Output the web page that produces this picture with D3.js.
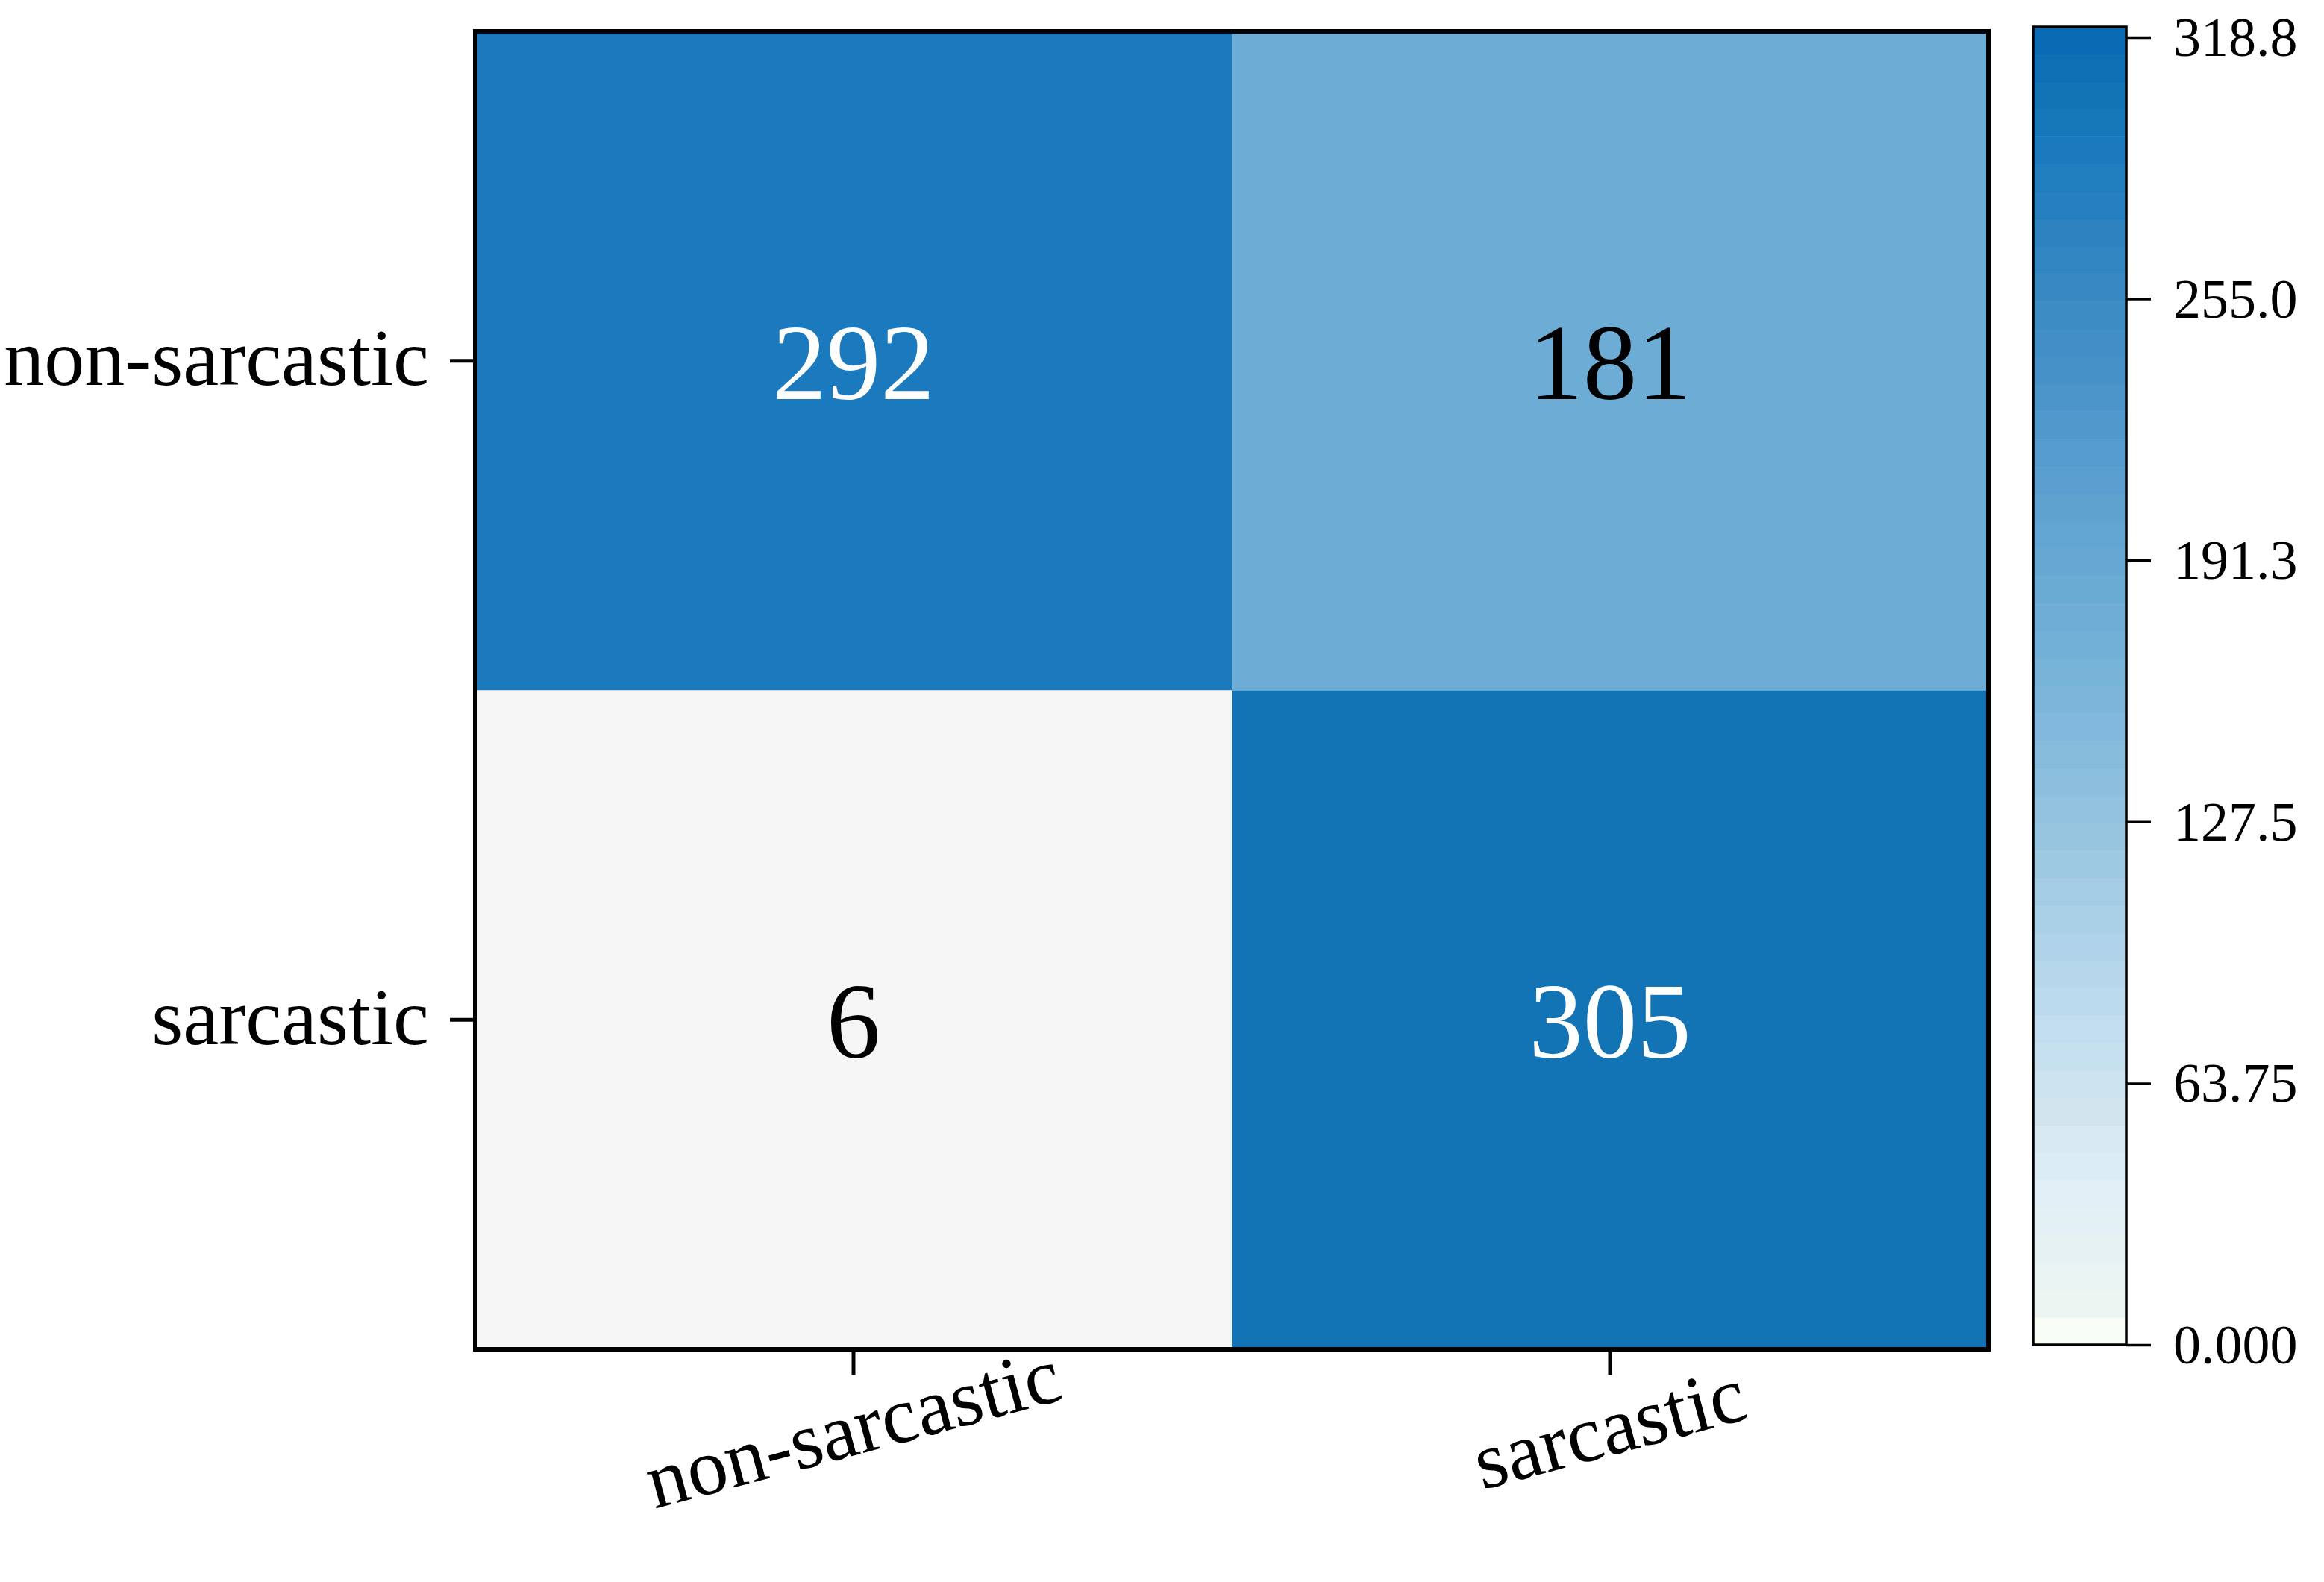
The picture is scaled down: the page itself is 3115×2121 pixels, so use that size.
<!DOCTYPE html>
<html>
<head>
<meta charset="utf-8">
<script src="https://cdn.jsdelivr.net/npm/d3@7"></script>
<style>
    body { margin: 0; background: #fff; }
    text { font-family: "Liberation Serif", "Times New Roman", serif; }
</style>
</head>
<body>
<div id="canvas"></div>
<script>
/***** Données *****/

const true_labels = ["non-sarcastic", "sarcastic"];   // lignes
const pred_labels = ["non-sarcastic", "sarcastic"];   // colonnes
const counts = [
    [292, 181],
    [6, 305]
];

// barre de couleur
const cb_max = 321.3;
const cb_tick_values = [0, 63.75, 127.5, 191.25, 255, 318.75];
const cb_tick_labels = ["0.000", "63.75", "127.5", "191.3", "255.0", "318.8"];

const cmap_values = [0, 4.9, 5, 6.2, 6.4, 17, 40, 55, 75, 100, 127.5, 150, 181, 210, 240, 255, 270, 292, 305, 321.3];
const cmap_colors = ["#f7fcf5", "#f7fcf5", "#f5f5f5", "#f5f5f5", "#eef6f3", "#e9f3f1", "#dfeef6",
    "#d4e6ee", "#c3def0", "#aed2e8", "#94c3de", "#82b8db", "#6cacd5", "#5b9fcf", "#4590c8",
    "#3a8ac2", "#2d83c0", "#1a7abd", "#1273b5", "#0868b3"];

(function (d3) {
    "use strict";

    /***** Configuration *****/

    var width = 3115,
        height = 2121;

    var plot = { left: 637, right: 2665, top: 42, bottom: 1809 };
    var cb = { left: 2725, right: 2850, top: 36, bottom: 1803 };

    var svg = d3.select("#canvas")
        .append("svg")
        .attr("width", width)
        .attr("height", height);

    /***** Échelles *****/

    var x = d3.scaleBand().domain(pred_labels).range([plot.left, plot.right]);
    var y = d3.scaleBand().domain(true_labels).range([plot.top, plot.bottom]);
    var color = d3.scaleLinear().domain(cmap_values).range(cmap_colors).clamp(true);
    var y_cb = d3.scaleLinear().domain([0, cb_max]).range([cb.bottom, cb.top]);

    /***** Matrice de confusion *****/

    var cells = [];
    true_labels.forEach(function (t, i) {
        pred_labels.forEach(function (p, j) {
            cells.push({ row: t, col: p, value: counts[i][j] });
        });
    });

    var heat = svg.append("g");

    heat.selectAll("rect")
        .data(cells)
        .enter()
        .append("rect")
        .attr("x", d => x(d.col))
        .attr("y", d => y(d.row))
        .attr("width", x.bandwidth())
        .attr("height", y.bandwidth())
        .attr("fill", d => color(d.value));

    heat.selectAll("text")
        .data(cells)
        .enter()
        .append("text")
        .attr("x", d => x(d.col) + x.bandwidth() / 2)
        .attr("y", d => y(d.row) + y.bandwidth() / 2)
        .attr("dy", "0.35em")
        .attr("text-anchor", "middle")
        .style("font-size", "145px")
        .attr("fill", d => d.value > 250 ? "#fff" : "#000")
        .text(d => d.value);

    // cadre
    svg.append("rect")
        .attr("x", plot.left)
        .attr("y", plot.top)
        .attr("width", plot.right - plot.left)
        .attr("height", plot.bottom - plot.top)
        .attr("fill", "none")
        .attr("stroke", "#000")
        .attr("stroke-width", 6);

    /***** Axes *****/

    var yAxis = d3.axisLeft(y).tickSize(34).tickPadding(28);
    var gy = svg.append("g")
        .attr("transform", "translate(" + plot.left + ",0)")
        .call(yAxis);
    gy.select(".domain").remove();
    gy.selectAll(".tick line").attr("stroke", "#000").attr("stroke-width", 5);
    gy.selectAll(".tick text")
        .attr("fill", "#000")
        .attr("dy", "0.3em")
        .style("font-size", "108px");

    var xAxis = d3.axisBottom(x).tickSize(34).tickFormat("");
    var gx = svg.append("g")
        .attr("transform", "translate(0," + plot.bottom + ")")
        .call(xAxis);
    gx.select(".domain").remove();
    gx.selectAll(".tick line").attr("stroke", "#000").attr("stroke-width", 5);

    // étiquettes inclinées
    svg.append("g")
        .selectAll("text")
        .data(pred_labels)
        .enter()
        .append("text")
        .attr("transform", d => "translate(" + (x(d) + x.bandwidth() / 2) + ",1918) rotate(-15)")
        .attr("text-anchor", "middle")
        .attr("dy", "0.3em")
        .style("font-size", "108px")
        .text(d => d);

    /***** Barre de couleur *****/

    var n_bands = 48;
    var step = cb_max / n_bands;
    var bands = d3.range(n_bands).map(k => ({ lo: k * step, hi: (k + 1) * step }));

    var g_cb = svg.append("g");

    g_cb.selectAll("rect")
        .data(bands)
        .enter()
        .append("rect")
        .attr("x", cb.left)
        .attr("width", cb.right - cb.left)
        .attr("y", d => y_cb(d.hi))
        .attr("height", d => y_cb(d.lo) - y_cb(d.hi) + 0.5)
        .attr("fill", d => color((d.lo + d.hi) / 2));

    g_cb.append("rect")
        .attr("x", cb.left)
        .attr("y", cb.top)
        .attr("width", cb.right - cb.left)
        .attr("height", cb.bottom - cb.top)
        .attr("fill", "none")
        .attr("stroke", "#000")
        .attr("stroke-width", 3.5);

    var cbAxis = d3.axisRight(y_cb)
        .tickValues(cb_tick_values)
        .tickFormat((d, i) => cb_tick_labels[i])
        .tickSize(33)
        .tickPadding(30);

    var g_cb_axis = svg.append("g")
        .attr("transform", "translate(" + cb.right + ",0)")
        .call(cbAxis);
    g_cb_axis.select(".domain").remove();
    g_cb_axis.selectAll(".tick line").attr("stroke", "#000").attr("stroke-width", 3.5);
    g_cb_axis.selectAll(".tick text")
        .attr("fill", "#000")
        .attr("dy", "0.33em")
        .style("font-size", "74px");

})(d3);
</script>
</body>
</html>
